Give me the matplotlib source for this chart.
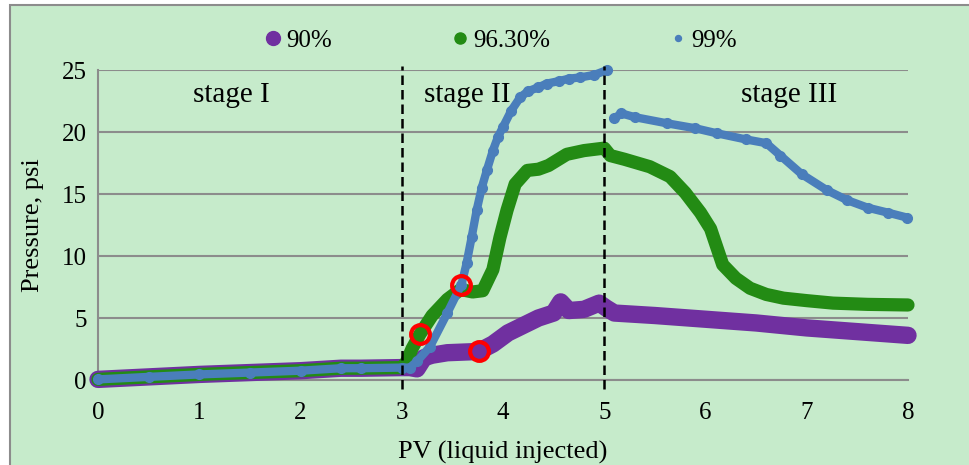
import matplotlib
matplotlib.use("Agg")
import matplotlib.pyplot as plt
from matplotlib.lines import Line2D
from matplotlib.patches import Rectangle
import numpy as np

plt.rcParams['font.family'] = ['Liberation Serif', 'DejaVu Serif']

# ---- data ----
labels = ['90%', '96.30%', '99%']

x_90 = [0, 0.5, 1, 1.5, 2, 2.4, 2.6, 3.0, 3.08, 3.15, 3.22, 3.3, 3.45, 3.76, 3.9, 4.05, 4.2,
        4.35, 4.5, 4.57, 4.65, 4.8, 4.95, 5.02, 5.1, 5.5, 6.0, 6.5, 7.0, 7.5, 8.0]
y_90 = [0.05, 0.25, 0.45, 0.6, 0.75, 0.95, 0.95, 1.0, 1.0, 0.9, 1.8, 2.0, 2.2, 2.3, 2.9, 3.8, 4.4,
        5.0, 5.4, 6.3, 5.6, 5.7, 6.2, 5.8, 5.4, 5.2, 4.9, 4.6, 4.2, 3.9, 3.6]

x_963 = [0, 0.5, 1, 1.5, 2, 2.4, 2.6, 3.0, 3.05, 3.1, 3.18, 3.3, 3.45, 3.58, 3.7, 3.8, 3.9, 3.97,
         4.04, 4.12, 4.24, 4.35, 4.45, 4.63, 4.8, 5.0, 5.06, 5.2, 5.45, 5.65, 5.8, 5.95, 6.05,
         6.17, 6.3, 6.44, 6.6, 6.77, 7.0, 7.26, 7.6, 8.0]
y_963 = [0.05, 0.25, 0.45, 0.6, 0.75, 0.95, 0.95, 1.0, 1.5, 2.5, 3.7, 5.2, 6.5, 7.3, 7.1, 7.2, 8.9, 11.5,
         13.7, 15.8, 16.9, 17.0, 17.3, 18.2, 18.5, 18.7, 18.1, 17.8, 17.2, 16.4, 15.1, 13.5, 12.2,
         9.3, 8.2, 7.4, 6.9, 6.6, 6.4, 6.2, 6.1, 6.05]

x_99 = [0, 0.5, 1, 1.5, 2, 2.4, 2.6, 3.0, 3.08, 3.15, 3.28, 3.45, 3.59, 3.64, 3.69, 3.74, 3.79,
        3.84, 3.9, 3.95, 4.0, 4.08, 4.17, 4.25, 4.35, 4.43, 4.55, 4.65, 4.76, 4.9, 5.03, np.nan,
        5.1, 5.17, 5.3, 5.62, 5.9, 6.11, 6.4, 6.6, 6.74, 6.95, 7.2, 7.4, 7.6, 7.8, 7.99]
y_99 = [0.05, 0.25, 0.45, 0.6, 0.75, 0.95, 0.95, 1.0, 1.0, 1.5, 2.7, 5.4, 7.7, 9.4, 11.5, 13.7, 15.5,
        16.9, 18.5, 19.6, 20.4, 21.7, 22.8, 23.3, 23.6, 23.9, 24.1, 24.3, 24.4, 24.6, 25.0, np.nan,
        21.1, 21.5, 21.2, 20.7, 20.3, 19.9, 19.4, 19.1, 18.1, 16.6, 15.3, 14.5, 13.9, 13.5, 13.1]

# highlighted points (red rings)
mark_x = [3.18, 3.59, 3.76]
mark_y = [3.7, 7.7, 2.3]

stage_names = ['stage I', 'stage II', 'stage III']
stage_x = [1.32, 3.65, 6.83]
stage_bounds = [3, 5]

purple = '#7030a0'
green = '#238b14'
blue = '#4a7ebb'
bgc = '#c6ebcb'
grey = '#8c8c8c'

fig = plt.figure(figsize=(9.69, 4.65), dpi=100)
fig.patch.set_facecolor('white')
fig.patches.append(Rectangle((10 / 969, -0.05), 1.0, 1.05 - 5 / 465, transform=fig.transFigure,
                             facecolor=bgc, edgecolor=grey, lw=1.5, zorder=-10))

ax = fig.add_axes([98 / 969, 1 - 380 / 465, 810 / 969, 310 / 465])
ax.set_facecolor('none')

ax.plot(x_90, y_90, color=purple, lw=12.5, solid_capstyle='round', solid_joinstyle='round',
        clip_on=False, zorder=3)
ax.plot(x_963, y_963, color=green, lw=9.5, solid_capstyle='round', solid_joinstyle='round',
        clip_on=False, zorder=4)
ax.plot(x_99, y_99, color=blue, lw=6, marker='o', ms=7, solid_capstyle='round',
        solid_joinstyle='round', clip_on=False, zorder=5)

ax.plot(mark_x, mark_y, ls='none', marker='o', ms=13.5, mfc='none', mec='#ff0000', mew=3,
        zorder=6)

for b in stage_bounds:
    ax.plot([b, b], [-0.7, 25.3], color='black', lw=1.8, ls=(0, (3.8, 2)), clip_on=False, zorder=7)

for name, sx in zip(stage_names, stage_x):
    ax.text(sx, 23.0, name, ha='center', va='center', fontsize=21)

ax.set_xlim(0, 8)
ax.set_ylim(0, 25)
ax.set_xticks(range(0, 9))
ax.set_yticks(range(0, 26, 5))
ax.yaxis.grid(True, color=grey, lw=1.5)
ax.set_axisbelow(True)
for s in ['top', 'right']:
    ax.spines[s].set_visible(False)
for s in ['left', 'bottom']:
    ax.spines[s].set_color(grey)
    ax.spines[s].set_linewidth(1.5)
ax.tick_params(axis='both', length=0, labelsize=18)
ax.tick_params(axis='x', pad=16)
ax.tick_params(axis='y', pad=8)

ax.set_xlabel('PV (liquid injected)', fontsize=19, labelpad=12)
ax.set_ylabel('Pressure, psi', fontsize=19, labelpad=13)

handles = [Line2D([], [], ls='none', marker='o', ms=10, color=purple),
           Line2D([], [], ls='none', marker='o', ms=8, color=green),
           Line2D([], [], ls='none', marker='o', ms=4.3, color=blue)]
fig.legend(handles, labels, loc='center', bbox_to_anchor=(0.516, 1 - 41 / 465), ncol=3,
           frameon=False, fontsize=18, columnspacing=4.7, handlelength=0.8, handletextpad=0.15)

fig.savefig('out.png', dpi=100, facecolor=fig.get_facecolor())
